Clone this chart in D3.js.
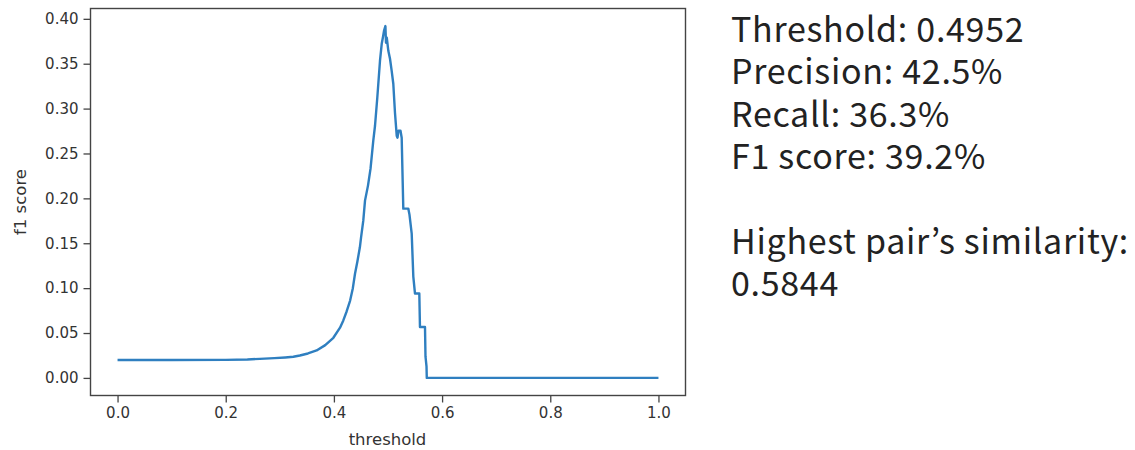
<!DOCTYPE html>
<html>
<head>
<meta charset="utf-8">
<script src="https://cdn.jsdelivr.net/npm/d3@7"></script>
<style>
  html, body { margin: 0; padding: 0; background: #fff; }
  #wrap { position: relative; width: 1135px; height: 450px; }
  svg { display: block; }
  #info { position: absolute; left: 731px; top: 7px; font-family: 'Noto Sans CJK JP', sans-serif;
          font-size: 34px; letter-spacing: 0.7px; color: #222; white-space: nowrap; }
  #info div { height: 42.4px; line-height: 42.4px; }
</style>
</head>
<body>
<div id="wrap">
<svg id="chart" width="1135" height="450"></svg>
<div id="info"></div>
</div>
<script>
// ---- data ----
const thresholds = [
  0.000, 0.100, 0.200, 0.240, 0.263, 0.290, 0.310, 0.325, 0.337, 0.352,
  0.368, 0.384, 0.399, 0.4113, 0.4174, 0.4235, 0.4300, 0.4350, 0.4390, 0.4435,
  0.4480, 0.4501, 0.4543, 0.4575, 0.4630,
  0.4677, 0.4728, 0.4760, 0.4802, 0.4852, 0.4884, 0.4908, 0.4926, 0.4952, 0.4963,
  0.4978, 0.5006, 0.5037, 0.5068, 0.5098, 0.5129, 0.5161, 0.5176, 0.5194, 0.5231,
  0.5253, 0.5283, 0.5375, 0.5397, 0.5438, 0.5468, 0.5499, 0.5579, 0.5591, 0.5684,
  0.5693, 0.5712, 0.5717, 1.000
];
const f1Scores = [
  0.0200, 0.0200, 0.0201, 0.0205, 0.0212, 0.0220, 0.0228, 0.0236, 0.0250, 0.0272,
  0.0306, 0.0365, 0.0447, 0.0560, 0.0640, 0.0740, 0.0862, 0.1000, 0.1160, 0.1300,
  0.1455, 0.1560, 0.1752, 0.1975, 0.2142,
  0.2331, 0.2643, 0.2809, 0.3121, 0.3533, 0.3722, 0.3800, 0.3866, 0.3919, 0.3733,
  0.3789, 0.3644, 0.3555, 0.3421, 0.3277, 0.2954, 0.2698, 0.2676, 0.2754, 0.2754,
  0.2676, 0.1886, 0.1886, 0.1819, 0.1608, 0.1129, 0.0940, 0.0940, 0.0567, 0.0567,
  0.0239, 0.0128, 0.0000, 0.0000
];
const xTicks = [0.0, 0.2, 0.4, 0.6, 0.8, 1.0];
const yTicks = [0.00, 0.05, 0.10, 0.15, 0.20, 0.25, 0.30, 0.35, 0.40];
const xLabel = "threshold";
const yLabel = "f1 score";
const infoLines = [
  "Threshold: 0.4952",
  "Precision: 42.5%",
  "Recall: 36.3%",
  "F1 score: 39.2%",
  "",
  "Highest pair\u2019s similarity:",
  "0.5844"
];

// ---- layout ----
const svg = d3.select("#chart");
const plot = { left: 90.5, right: 685.5, top: 8.5, bottom: 395.5 };

const x = d3.scaleLinear().domain([-0.05, 1.05]).range([plot.left, plot.right]);
const y = d3.scaleLinear().domain([-0.0196, 0.4115]).range([plot.bottom, plot.top]);

const tickColor = "#333";
const tickFont = "DejaVu Sans, sans-serif";

// line
const data = thresholds.map((t, i) => ({ t, v: f1Scores[i] }));
const line = d3.line().x(d => x(d.t)).y(d => y(d.v));

svg.append("path")
  .datum(data)
  .attr("d", line)
  .attr("fill", "none")
  .attr("stroke", "#2f7fc0")
  .attr("stroke-width", 2.4)
  .attr("stroke-linejoin", "round")
  .attr("stroke-linecap", "butt");

// axes
const xAxis = d3.axisBottom(x).tickValues(xTicks).tickFormat(d3.format(".1f")).tickSize(7).tickPadding(5);
const yAxis = d3.axisLeft(y).tickValues(yTicks).tickFormat(d3.format(".2f")).tickSize(7).tickPadding(5);

const gx = svg.append("g").attr("transform", `translate(0,${plot.bottom})`).call(xAxis);
const gy = svg.append("g").attr("transform", `translate(${plot.left},0)`).call(yAxis);
[gx, gy].forEach(g => {
  g.select(".domain").remove();
  g.selectAll(".tick line").attr("stroke", "#444").attr("stroke-width", 1.3);
  g.selectAll(".tick text").attr("fill", tickColor).style("font-family", tickFont).style("font-size", "15px");
});

// frame
svg.append("rect")
  .attr("x", plot.left).attr("y", plot.top)
  .attr("width", plot.right - plot.left).attr("height", plot.bottom - plot.top)
  .attr("fill", "none").attr("stroke", "#444").attr("stroke-width", 1.4);

// axis labels
svg.append("text")
  .attr("x", (plot.left + plot.right) / 2 - 0.5).attr("y", 445)
  .attr("text-anchor", "middle")
  .attr("fill", tickColor).style("font-family", tickFont).style("font-size", "16.5px")
  .text(xLabel);

svg.append("text")
  .attr("transform", `translate(26,${(plot.top + plot.bottom) / 2}) rotate(-90)`)
  .attr("text-anchor", "middle")
  .attr("fill", tickColor).style("font-family", tickFont).style("font-size", "16.5px")
  .text(yLabel);

// info text (HTML lines with fixed line boxes)
d3.select("#info").selectAll("div")
  .data(infoLines)
  .join("div")
  .html(d => d ? d.replace(/&/g, "&amp;") : "&nbsp;");
</script>
</body>
</html>
